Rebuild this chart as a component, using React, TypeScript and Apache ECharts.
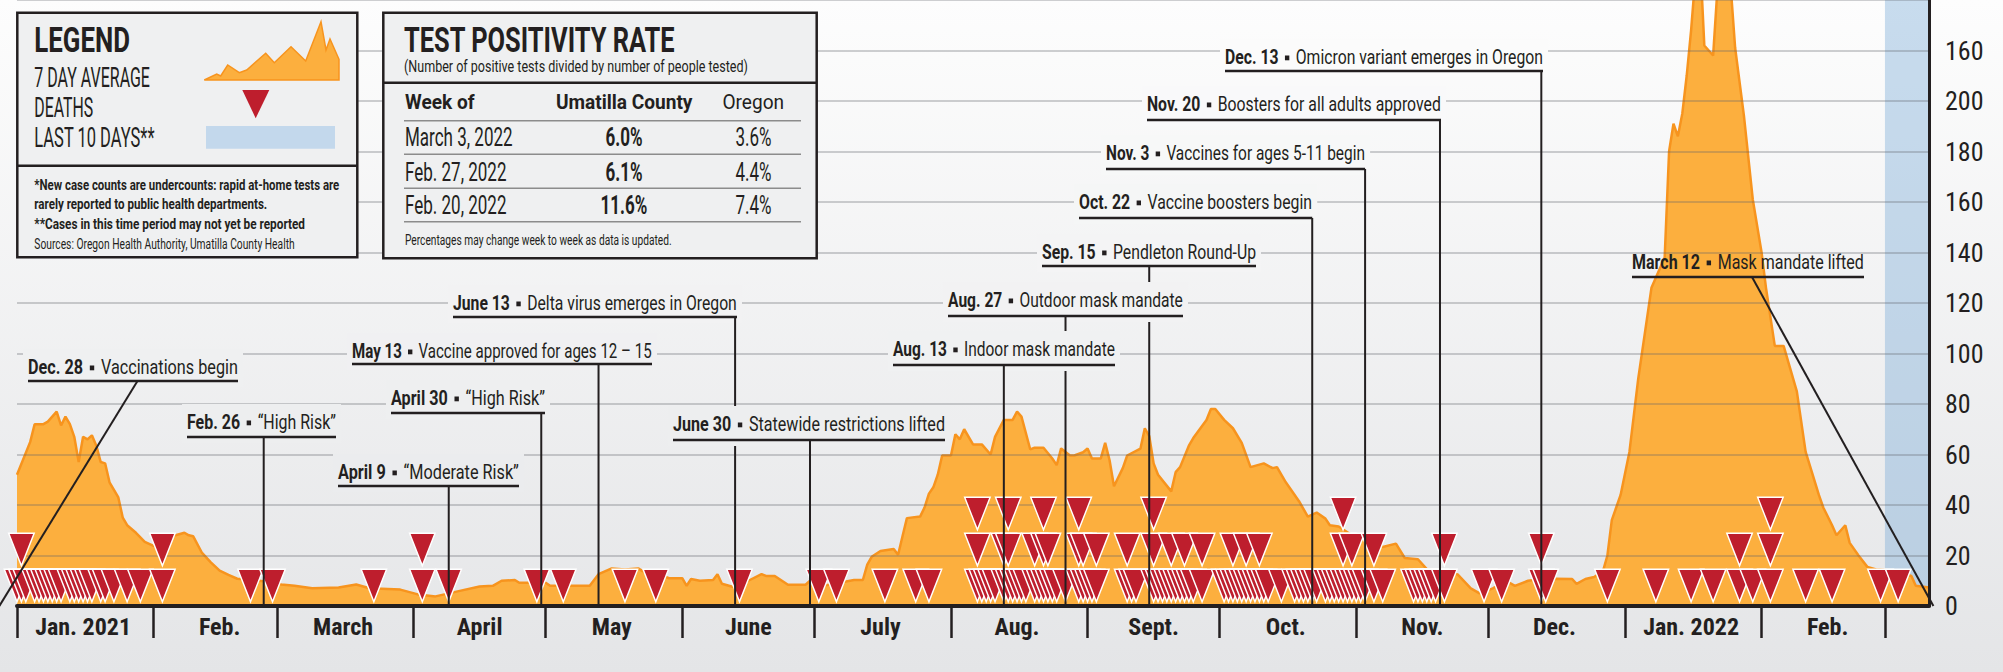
import React, { useEffect, useRef } from 'react';
import * as echarts from 'echarts';

const INK = '#231f20';
const NARROW = "'Liberation Sans Narrow', 'Roboto Condensed', 'DejaVu Sans Condensed', Roboto, sans-serif";

// ---------- axis ----------
const axisStart = '2021-01-01';
const axisEnd = '2022-03-11';
const lastTenDaysStart = '2022-03-01';
const monthKeys = ['2021-01','2021-02','2021-03','2021-04','2021-05','2021-06','2021-07','2021-08','2021-09','2021-10','2021-11','2021-12','2022-01','2022-02'];
const monthLabels = ['Jan. 2021','Feb.','March','April','May','June','July','Aug.','Sept.','Oct.','Nov.','Dec.','Jan. 2022','Feb.'];
const yTickLabels = ['0','20','40','60','80','100','120','140','160','180','200','160'];

// ---------- 7 day average of new cases ----------
const caseDates = [
'2021-01-01','2021-01-04','2021-01-05','2021-01-07','2021-01-08','2021-01-10','2021-01-11','2021-01-12','2021-01-13','2021-01-14',
'2021-01-15','2021-01-16','2021-01-17','2021-01-18','2021-01-19','2021-01-20','2021-01-21','2021-01-22','2021-01-24','2021-01-25',
'2021-01-26','2021-01-28','2021-01-30','2021-02-01','2021-02-04','2021-02-05','2021-02-06','2021-02-08','2021-02-09','2021-02-10',
'2021-02-12','2021-02-14','2021-02-16','2021-02-18','2021-02-20','2021-02-23','2021-02-27','2021-03-02','2021-03-05','2021-03-09',
'2021-03-15','2021-03-19','2021-03-22','2021-03-29','2021-04-02','2021-04-06','2021-04-08','2021-04-11','2021-04-16','2021-04-19',
'2021-04-21','2021-04-24','2021-04-25','2021-05-01','2021-05-02','2021-05-11','2021-05-13','2021-05-16','2021-05-19','2021-05-22',
'2021-05-23','2021-05-26','2021-05-29','2021-06-01','2021-06-02','2021-06-03','2021-06-05','2021-06-08','2021-06-09','2021-06-10',
'2021-06-13','2021-06-16','2021-06-19','2021-06-20','2021-06-22','2021-06-25','2021-06-29','2021-06-30','2021-07-03','2021-07-10',
'2021-07-12','2021-07-13','2021-07-14','2021-07-16','2021-07-19','2021-07-20','2021-07-21','2021-07-22','2021-07-25','2021-07-26',
'2021-07-27','2021-07-28','2021-07-29','2021-07-30','2021-08-01','2021-08-02','2021-08-03','2021-08-04','2021-08-06','2021-08-08',
'2021-08-10','2021-08-11','2021-08-13','2021-08-15','2021-08-16','2021-08-17','2021-08-19','2021-08-20','2021-08-22','2021-08-24',
'2021-08-25','2021-08-26','2021-08-28','2021-08-29','2021-08-31','2021-09-01','2021-09-02','2021-09-04','2021-09-05','2021-09-06',
'2021-09-07','2021-09-09','2021-09-10','2021-09-13','2021-09-14','2021-09-15','2021-09-16','2021-09-17','2021-09-20','2021-09-21',
'2021-09-22','2021-09-24','2021-09-25','2021-09-28','2021-09-29','2021-09-30','2021-10-02','2021-10-04','2021-10-06','2021-10-08',
'2021-10-11','2021-10-13','2021-10-14','2021-10-16','2021-10-19','2021-10-21','2021-10-23','2021-10-25','2021-10-26','2021-10-28',
'2021-10-31','2021-11-03','2021-11-07','2021-11-10','2021-11-12','2021-11-15','2021-11-17','2021-11-22','2021-11-24','2021-11-27',
'2021-11-29','2021-12-02','2021-12-05','2021-12-07','2021-12-10','2021-12-13','2021-12-16','2021-12-20','2021-12-21','2021-12-23',
'2021-12-25','2021-12-27','2021-12-28','2021-12-29','2021-12-30','2021-12-31','2022-01-02','2022-01-04','2022-01-07','2022-01-10',
'2022-01-11','2022-01-12','2022-01-13','2022-01-14','2022-01-15','2022-01-16','2022-01-17','2022-01-18','2022-01-19','2022-01-20',
'2022-01-21','2022-01-22','2022-01-24','2022-01-25','2022-01-26','2022-01-28','2022-01-30','2022-02-01','2022-02-02','2022-02-04',
'2022-02-06','2022-02-09','2022-02-11','2022-02-14','2022-02-15','2022-02-17','2022-02-18','2022-02-20','2022-02-21','2022-02-23',
'2022-02-25','2022-02-27','2022-03-03','2022-03-07','2022-03-08','2022-03-11'
];
const caseValues = [
52,65,72,72,73,77,71.5,75,72,67,
57,67,66,67.6,63.5,57,56.5,49,43,35,
32,29,25.4,23.8,22,28,28,29,28,27.6,
21,17.3,14,12.3,10.8,10.4,9.6,8.5,8,7,
7.3,8.5,7,6.5,4.6,3.8,4.6,5.8,7.7,8,
10,10.3,9.2,9.2,8,8,12.6,14.9,14.5,14.9,
13.8,13,11,11,8,10.7,10,10.3,12.6,8.8,
7.3,10,12.6,11.9,11.9,8.4,8.4,10,8,10.3,
10.3,16.4,19.5,21.8,22.6,20.3,27.6,34.8,35.4,39,
44.5,47,52,59.6,59.6,68,66,70,64,64,
60,67,73.7,73.7,77,75,62,62.7,62.7,58.4,
55.8,62.4,59.6,59.6,60.9,62.4,58.4,58.4,64.6,57.7,
47.4,54.6,59.6,62.3,70.4,67.3,56.5,52,45.4,53,
55,63.5,66.5,73.7,78,78,73.7,70.4,64.6,55,
56.5,54.6,55,49,41.5,35.4,37,34.6,32,31.5,
28,27,23.4,24.7,19,18.5,14.6,13.5,12.5,7,
5,7,10,8,10,10.7,10.8,10.7,8.8,10.7,
11.5,13.8,20,34,39,44,61,90,126,138,
180,191,186,195,210,228,250,258,222,220,
218,245,262,245,221,194,161,140,126,103,
103,85,61,44,39,32,28,32,25,20,
15.5,14.5,14,11.9,8,7.3
];

// ---------- deaths (one triangle each) ----------
const deathDates = [
'2021-01-01','2021-01-02','2021-01-03','2021-01-05','2021-01-06','2021-01-07','2021-01-08','2021-01-09','2021-01-10','2021-01-11',
'2021-01-13','2021-01-14','2021-01-15','2021-01-16','2021-01-17','2021-01-18','2021-01-20','2021-01-21','2021-01-23','2021-01-26',
'2021-01-29','2021-02-03','2021-02-23','2021-02-28','2021-03-23','2021-04-03','2021-04-09','2021-04-29','2021-05-05','2021-05-19',
'2021-05-26','2021-06-14','2021-07-02','2021-07-06','2021-07-17','2021-07-24','2021-07-27','2021-08-07','2021-08-08','2021-08-09',
'2021-08-10','2021-08-11','2021-08-13','2021-08-14','2021-08-15','2021-08-16','2021-08-17','2021-08-18','2021-08-20','2021-08-21',
'2021-08-22','2021-08-23','2021-08-24','2021-08-25','2021-08-27','2021-08-30','2021-08-31','2021-09-01','2021-09-02','2021-09-03',
'2021-09-10','2021-09-11','2021-09-12','2021-09-16','2021-09-17','2021-09-18','2021-09-19','2021-09-20','2021-09-21','2021-09-22',
'2021-09-23','2021-09-24','2021-09-25','2021-09-27','2021-10-02','2021-10-03','2021-10-04','2021-10-05','2021-10-06','2021-10-07',
'2021-10-08','2021-10-09','2021-10-10','2021-10-11','2021-10-12','2021-10-15','2021-10-18','2021-10-19','2021-10-20','2021-10-21',
'2021-10-22','2021-10-23','2021-10-25','2021-10-26','2021-10-27','2021-10-28','2021-10-29','2021-10-30','2021-10-31','2021-11-01',
'2021-11-02','2021-11-03','2021-11-05','2021-11-07','2021-11-14','2021-11-15','2021-11-16','2021-11-17','2021-11-18','2021-11-19',
'2021-11-21','2021-11-30','2021-12-04','2021-12-13','2021-12-14','2021-12-28','2022-01-08','2022-01-16','2022-01-21','2022-01-27',
'2022-01-30','2022-02-03','2022-02-11','2022-02-17','2022-02-28','2022-03-04'
];
const deathCounts = [
1,2,1,1,1,1,1,1,1,1,
1,1,1,1,1,1,1,1,1,1,
1,2,1,1,1,2,1,1,1,1,
1,1,1,1,1,1,1,3,1,1,
1,1,2,3,1,1,1,1,2,1,
3,2,1,1,1,3,2,1,1,2,
2,1,1,3,1,1,1,2,1,1,
2,1,1,2,1,1,2,1,1,2,
1,1,2,1,1,1,1,1,1,1,
1,1,1,1,1,1,3,1,2,1,
1,1,2,1,1,1,1,1,1,1,
2,1,1,2,1,1,1,1,1,2,
1,3,1,1,1,1
];

// ---------- events ----------
const eventDates = ['2020-12-28','2021-02-26','2021-04-09','2021-04-30','2021-05-13','2021-06-13','2021-06-30','2021-08-13','2021-08-27','2021-09-15','2021-10-22','2021-11-03','2021-11-20','2021-12-13','2022-03-12'];
const eventTitles = ['Dec. 28','Feb. 26','April 9','April 30','May 13','June 13','June 30','Aug. 13','Aug. 27','Sep. 15','Oct. 22','Nov. 3','Nov. 20','Dec. 13','March 12'];
const eventTexts = ['Vaccinations begin','\u201cHigh Risk\u201d','\u201cModerate Risk\u201d','\u201cHigh Risk\u201d','Vaccine approved for ages 12 \u2013 15','Delta virus emerges in Oregon','Statewide restrictions lifted','Indoor mask mandate','Outdoor mask mandate','Pendleton Round-Up','Vaccine boosters begin','Vaccines for ages 5-11 begin','Boosters for all adults approved','Omicron variant emerges in Oregon','Mask mandate lifted'];

// ---------- positivity table ----------
const tableWeeks = ['March 3, 2022','Feb. 27, 2022','Feb. 20, 2022'];
const tableCounty = ['6.0%','6.1%','11.6%'];
const tableOregon = ['3.6%','4.4%','7.4%'];

// ---------- layout (pixels) ----------
// [textLeft, textRight, textCenterY, underlineY, diagonalAnchorX (or null), boxed]
const eventLayout: [number, number, number, number, number | null, number][] = [
  [28, 238, 367, 381, 137.5, 1],
  [187, 336, 422, 437, null, 1],
  [338, 519, 472, 486, null, 1],
  [391, 545, 398, 413, null, 1],
  [352, 652, 351, 364, null, 1],
  [453, 737, 303, 317, null, 1],
  [673, 945, 424, 440, null, 1],
  [893, 1115, 349, 365, null, 1],
  [948, 1183, 300, 316, null, 1],
  [1042, 1256, 252, 266, null, 1],
  [1079, 1312, 202, 218, null, 1],
  [1106, 1365, 153, 169, null, 1],
  [1147, 1441, 104, 120, null, 1],
  [1225, 1543, 57, 71, null, 1],
  [1632, 1864, 262, 277, 1752, 0],
];

const BG_TOP = [253, 253, 253];
const BG_BOT = [228, 229, 231];
function bgAt(y: number) {
  const t = Math.max(0, Math.min(1, y / 672));
  const c = BG_TOP.map((v, i) => Math.round(v + (BG_BOT[i] - v) * t));
  return `rgb(${c[0]},${c[1]},${c[2]})`;
}

function buildAxisDates() {
  const out: string[] = [];
  const end = Date.parse(axisEnd + 'T00:00:00Z');
  for (let t = Date.parse(axisStart + 'T00:00:00Z'); t <= end; t += 86400000) {
    out.push(new Date(t).toISOString().slice(0, 10));
  }
  return out;
}

export default function App() {
  const ref = useRef<HTMLDivElement>(null);

  useEffect(() => {
    document.body.style.margin = '0';
    const el = ref.current!;
    const chart = echarts.init(el, undefined, { renderer: 'svg' });
    const axisDates = buildAxisDates();

    const deathItems: any[] = [];
    deathDates.forEach((d, i) => {
      for (let k = 0; k < deathCounts[i]; k++) {
        deathItems.push({ value: [d, 0], symbolOffset: [0, -(20.5 + 36 * k)] });
      }
    });

    chart.setOption({
      animation: false,
      backgroundColor: 'transparent',
      grid: { left: 17, right: 74, top: -21.6, bottom: 66, containLabel: false },
      xAxis: {
        type: 'category',
        data: axisDates,
        boundaryGap: false,
        z: 6,
        axisLine: { lineStyle: { color: INK, width: 4 } },
        axisTick: {
          show: true,
          interval: (_i: number, v: string) => v.endsWith('-01'),
          length: 32,
          lineStyle: { color: INK, width: 2.5 },
        },
        axisLabel: {
          interval: (_i: number, v: string) => v.endsWith('-16'),
          formatter: (v: string) => {
            const k = monthKeys.indexOf(v.slice(0, 7));
            return k >= 0 ? monthLabels[k] : '';
          },
          margin: 9,
          fontSize: 24,
          fontWeight: 'bold',
          fontFamily: NARROW,
          color: INK,
        },
        splitLine: { show: false },
      },
      yAxis: {
        type: 'value',
        position: 'right',
        min: 0,
        max: 240,
        interval: 20,
        z: 4,
        axisLine: { show: true, lineStyle: { color: INK, width: 3 } },
        axisTick: { show: false },
        axisLabel: {
          formatter: (v: number) => yTickLabels[Math.round(v / 20)] ?? '',
          margin: 16,
          fontSize: 26,
          fontFamily: NARROW,
          color: INK,
        },
        splitLine: { lineStyle: { color: 'rgba(95,100,105,0.3)', width: 2 } },
      },
      series: [
        {
          type: 'line',
          name: 'cases',
          data: caseDates.map((d, i) => [d, caseValues[i]]),
          symbol: 'none',
          z: 2,
          lineStyle: { color: '#f7941e', width: 2.5 },
          areaStyle: { color: '#fcaf3e', opacity: 1 },
        },
        {
          type: 'line',
          name: 'band',
          data: [],
          z: 3,
          markArea: {
            silent: true,
            itemStyle: { color: 'rgba(120,170,215,0.4)' },
            data: [[{ xAxis: lastTenDaysStart }, { xAxis: axisEnd }]],
          },
        },
        {
          type: 'scatter',
          name: 'deaths',
          data: deathItems,
          symbol: 'path://M0 0 L26 0 L13 33 Z',
          symbolSize: [25.5, 32.5],
          z: 5,
          itemStyle: { color: '#be1e2d', borderColor: '#ffffff', borderWidth: 1.5, opacity: 1 },
        },
      ],
    });

    // ---------- annotations & boxes ----------
    const cv = document.createElement('canvas').getContext('2d')!;
    const tw = (text: string, font: string) => { cv.font = font; return cv.measureText(text).width; };
    const fontOf = (size: number, bold: boolean) => `${bold ? 'bold ' : ''}${size}px Roboto`;
    const txt = (text: string, x: number, y: number, size: number, bold: boolean, s: number, align = 'left', fill = INK) => {
      const w = tw(text, fontOf(size, bold)) * s;
      const left = align === 'center' ? x - w / 2 : x;
      return { type: 'text', x: left, y, scaleX: s, z: 10, silent: true,
        style: { text, font: fontOf(size, bold), fill, align: 'left', verticalAlign: 'middle' } };
    };
    const fit = (text: string, x: number, y: number, w: number, size: number, bold: boolean) =>
      txt(text, x, y, size, bold, w / tw(text, fontOf(size, bold)));
    const line = (x1: number, y1: number, x2: number, y2: number, w = 2, c = INK) =>
      ({ type: 'line', z: 10, silent: true, shape: { x1, y1, x2, y2 }, style: { stroke: c, lineWidth: w } });
    const rect = (x: number, y: number, w: number, h: number, style: any) =>
      ({ type: 'rect', z: 10, silent: true, shape: { x, y, width: w, height: h }, style });

    const x0 = chart.convertToPixel({ xAxisIndex: 0 }, axisDates[0]) as number;
    const x1 = chart.convertToPixel({ xAxisIndex: 0 }, axisDates[1]) as number;
    const t0 = Date.parse(axisStart + 'T00:00:00Z');
    const px = (d: string) => x0 + ((Date.parse(d + 'T00:00:00Z') - t0) / 86400000) * (x1 - x0);
    const baseY = chart.convertToPixel({ yAxisIndex: 0 }, 0) as number;

    const els: any[] = [];

    // legend box
    els.push(rect(17.3, 12.7, 340, 244.6, { fill: '#eff0f1', stroke: INK, lineWidth: 2.5 }));
    els.push(line(17.3, 165.7, 357.3, 165.7, 2.5));
    els.push(fit('LEGEND', 34.3, 40, 95.7, 36, true));
    els.push(fit('7 DAY AVERAGE', 34.3, 77, 115.7, 27, false));
    els.push(fit('DEATHS', 34.3, 107, 59, 27, false));
    els.push(fit('LAST 10 DAYS**', 34.3, 137, 120.7, 27, false));
    els.push({ type: 'polygon', z: 10, silent: true, shape: { points: [[204.3,80],[216.7,74],[220.7,76],[227.7,65],[239.3,72.7],[246.7,70],[265.7,53.3],[274.3,62.7],[291,46.7],[305.7,61],[321,21.7],[326,50],[330,39],[339,59.3],[339,80]] }, style: { fill: '#fcaf3e', stroke: '#f7941e', lineWidth: 1.5 } });
    els.push({ type: 'polygon', z: 10, silent: true, shape: { points: [[242.3,90],[269.3,90],[255.7,118.3]] }, style: { fill: '#be1e2d' } });
    els.push(rect(206, 126, 129, 22.7, { fill: '#c3d8ec' }));
    els.push(fit('*New case counts are undercounts: rapid at-home tests are', 34.3, 184.5, 305, 15, true));
    els.push(fit('rarely reported to public health departments.', 34.3, 204, 233.3, 15, true));
    els.push(fit('**Cases in this time period may not yet be reported', 34.3, 223, 270.7, 15, true));
    els.push(fit('Sources: Oregon Health Authority, Umatilla County Health', 34.3, 243.5, 260.7, 15, false));

    // positivity table
    els.push(rect(383.3, 12.7, 433.4, 245.6, { fill: '#eff0f1', stroke: INK, lineWidth: 2.5 }));
    els.push(line(383.3, 82.7, 816.7, 82.7, 2.5));
    els.push(fit('TEST POSITIVITY RATE', 404, 40, 271.7, 36, true));
    els.push(fit('(Number of positive tests divided by number of people tested)', 404, 66.7, 344.3, 17, false));
    const sHead = 136.7 / tw('Umatilla County', fontOf(21, true));
    els.push(txt('Week of', 405, 101.7, 21, true, sHead));
    els.push(txt('Umatilla County', 624.3, 101.7, 21, true, sHead, 'center'));
    els.push(txt('Oregon', 753.3, 101.7, 21, false, sHead, 'center'));
    els.push(line(404, 120.7, 801, 120.7, 1.5, '#8c8c8c'));
    const sRow = 107.7 / tw(tableWeeks[0], fontOf(25, false));
    const rowY = [137, 172, 205.5];
    const rowLineY = [154.3, 188.3, 221.7];
    tableWeeks.forEach((w, i) => {
      els.push(txt(w, 405, rowY[i], 25, false, sRow));
      els.push(txt(tableCounty[i], 624, rowY[i], 25, true, sRow, 'center'));
      els.push(txt(tableOregon[i], 753.5, rowY[i], 25, false, sRow, 'center'));
      els.push(line(404, rowLineY[i], 801, rowLineY[i], 1.5, '#8c8c8c'));
    });
    els.push(fit('Percentages may change week to week as data is updated.', 405, 240, 266.7, 14, false));

    // event annotations, top-most first so lower label boxes mask upper leaders
    const order = eventLayout.map((_, i) => i).sort((a, b) => eventLayout[a][2] - eventLayout[b][2]);
    const SIZE = 21;
    order.forEach((i) => {
      const [xl, xr, cy, uy, anchor, boxed] = eventLayout[i];
      const ex = px(eventDates[i]);
      const uxr = anchor == null ? Math.max(xr, ex) : xr;
      if (boxed) els.push(rect(xl - 5, cy - 18, uxr - xl + 10, uy - cy + 24, { fill: bgAt(cy) }));
      const wb = tw(eventTitles[i], fontOf(SIZE, true));
      const wd = tw(eventTexts[i], fontOf(SIZE, false));
      const gap = SIZE * 1.1;
      const s = (xr - xl) / (wb + gap + wd);
      els.push(txt(eventTitles[i], xl, cy, SIZE, true, s));
      const bx = xl + (wb + gap / 2) * s;
      els.push(rect(bx - 2.2, cy - 1.5, 4.4, 4.8, { fill: INK }));
      els.push(txt(eventTexts[i], xl + (wb + gap) * s, cy, SIZE, false, s));
      els.push(line(xl, uy, uxr, uy, 2.5));
      if (anchor == null) els.push(line(ex, uy, ex, baseY, 2));
      else els.push(line(anchor, uy, ex, baseY, 2));
    });

    chart.setOption({ graphic: { elements: els } });

    return () => chart.dispose();
  }, []);

  return (
    <div
      ref={ref}
      style={{
        position: 'absolute', left: 0, top: 0, width: 2003, height: 672,
        background: 'linear-gradient(#fdfdfd, #e4e5e7)',
      }}
    />
  );
}
